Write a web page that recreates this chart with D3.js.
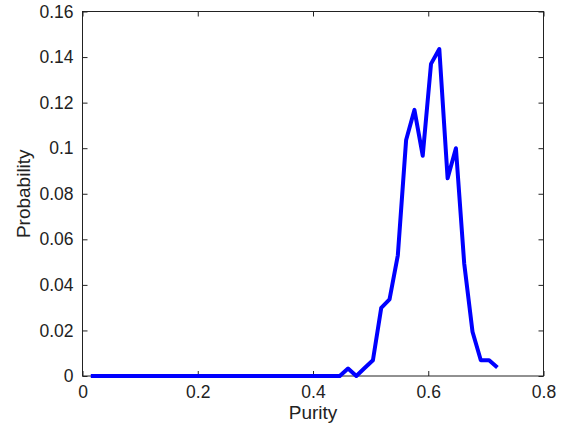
<!DOCTYPE html>
<html>
<head>
<meta charset="utf-8">
<script src="https://cdn.jsdelivr.net/npm/d3@7"></script>
<style>
  body { margin: 0; background: #fff; }
  text { font-family: "Liberation Sans", Arial, sans-serif; fill: #222; }
</style>
</head>
<body>
<div id="chart-area"></div>
<script>
var purity = [0.0144, 0.0288, 0.0432, 0.0576, 0.072, 0.0864, 0.1008, 0.1152, 0.1296, 0.144,
              0.1584, 0.1728, 0.1872, 0.2016, 0.216, 0.2304, 0.2448, 0.2592, 0.2736, 0.288,
              0.3024, 0.3168, 0.3312, 0.3456, 0.36, 0.3744, 0.3888, 0.4032, 0.4176, 0.432,
              0.4464, 0.4608, 0.4752, 0.4896, 0.504, 0.5184, 0.5328, 0.5472, 0.5616, 0.576,
              0.5904, 0.6048, 0.6192, 0.6336, 0.648, 0.6624, 0.6768, 0.6912, 0.7056, 0.72];
var probability = [0, 0, 0, 0, 0, 0, 0, 0, 0, 0,
                   0, 0, 0, 0, 0, 0, 0, 0, 0, 0,
                   0, 0, 0, 0, 0, 0, 0, 0, 0, 0,
                   0, 0.0033, 0, 0.0035, 0.0069, 0.0299, 0.0336, 0.053, 0.1036, 0.1168,
                   0.0967, 0.137, 0.1435, 0.0868, 0.1, 0.0494, 0.0194, 0.0069, 0.0069, 0.0037];
var xTicks = [0, 0.2, 0.4, 0.6, 0.8];
var yTicks = [0, 0.02, 0.04, 0.06, 0.08, 0.1, 0.12, 0.14, 0.16];

var data = purity.map((p, i) => ({purity: p, prob: probability[i]}));

const MARGIN = { LEFT: 82.5, RIGHT: 28.5, TOP: 11.5, BOTTOM: 51 }
const WIDTH = 572 - MARGIN.LEFT - MARGIN.RIGHT
const HEIGHT = 427 - MARGIN.TOP - MARGIN.BOTTOM

const svg = d3.select("#chart-area").append("svg")
            .attr("width", 572)
            .attr("height", 427)

const g = svg.append("g")
       .attr("transform", `translate(${MARGIN.LEFT}, ${MARGIN.TOP})`)

var xScale = d3.scaleLinear().domain([0, 0.8]).range([0, WIDTH]);
var yScale = d3.scaleLinear().domain([0, 0.16]).range([HEIGHT, 0]);

// box
g.append("rect")
  .attr("width", WIDTH).attr("height", HEIGHT)
  .attr("fill", "none").attr("stroke", "#222").attr("stroke-width", 1);

// bottom axis, ticks pointing in (matlab style)
var xAxis = g.append("g")
  .attr("transform", "translate(0," + HEIGHT + ")")
  .call(d3.axisBottom(xScale).tickValues(xTicks).tickSize(-5).tickPadding(10).tickFormat(d3.format("~g")));
xAxis.select(".domain").remove();
xAxis.selectAll("text").attr("font-size", 17.5).attr("fill", "#222");
xAxis.selectAll("line").attr("stroke", "#222");

var xTop = g.append("g")
  .call(d3.axisTop(xScale).tickValues(xTicks).tickSize(-5).tickFormat(""));
xTop.select(".domain").remove();
xTop.selectAll("line").attr("stroke", "#222");

var yAxis = g.append("g")
  .call(d3.axisLeft(yScale).tickValues(yTicks).tickSize(-5).tickPadding(9).tickFormat(d3.format("~g")));
yAxis.select(".domain").remove();
yAxis.selectAll("text").attr("font-size", 17.5).attr("fill", "#222");
yAxis.selectAll("line").attr("stroke", "#222");

var yRight = g.append("g")
  .attr("transform", "translate(" + WIDTH + ",0)")
  .call(d3.axisRight(yScale).tickValues(yTicks).tickSize(-5).tickFormat(""));
yRight.select(".domain").remove();
yRight.selectAll("line").attr("stroke", "#222");

var lineGenerator = d3.line()
                      .x(d => xScale(d.purity))
                      .y(d => yScale(d.prob));

g.append("path")
  .attr("fill", "none")
  .attr("stroke", "#0000ff")
  .attr("stroke-width", 4)
  .attr("stroke-linejoin", "round")
  .attr("d", lineGenerator(data));

svg.append("text")
  .attr("x", MARGIN.LEFT + WIDTH / 2).attr("y", 419)
  .attr("text-anchor", "middle").attr("font-size", 19)
  .text("Purity");

svg.append("text")
  .attr("transform", "translate(30," + (MARGIN.TOP + HEIGHT / 2) + ") rotate(-90)")
  .attr("text-anchor", "middle").attr("font-size", 19)
  .text("Probability");
</script>
</body>
</html>
